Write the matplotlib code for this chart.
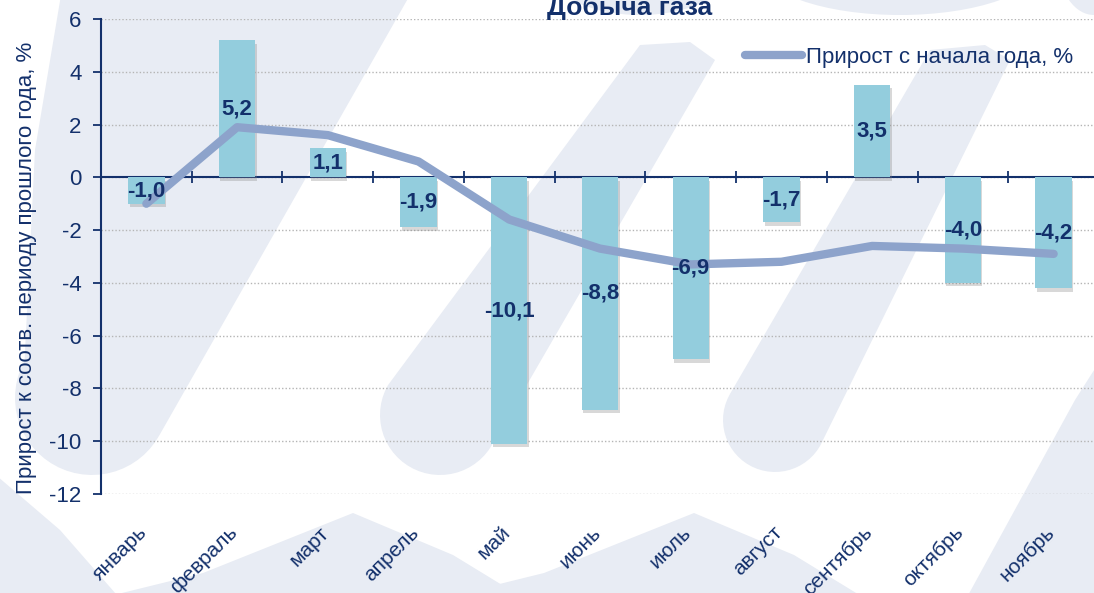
import matplotlib
matplotlib.use('Agg')
import numpy as np
import matplotlib.pyplot as plt
import matplotlib.patheffects as pe
from matplotlib.patches import Polygon, Ellipse

# данные
months = ['январь', 'февраль', 'март', 'апрель', 'май', 'июнь',
          'июль', 'август', 'сентябрь', 'октябрь', 'ноябрь']
yoy = [-1.0, 5.2, 1.1, -1.9, -10.1, -8.8, -6.9, -1.7, 3.5, -4.0, -4.2]
ytd = [-1.0, 1.9, 1.6, 0.6, -1.6, -2.7, -3.3, -3.2, -2.6, -2.7, -2.9]
yticks = [6, 4, 2, 0, -2, -4, -6, -8, -10, -12]

plt.rcParams['font.family'] = ['Liberation Sans', 'DejaVu Sans']
plt.rcParams['axes.unicode_minus'] = False

NAVY = '#13306b'
BAR = '#93cddd'
LINE = '#8da3cb'
WM = '#e8ecf4'

W, H = 1094, 593
fig = plt.figure(figsize=(W / 100, H / 100), dpi=100)


def px(x, y):
    return x / W, 1 - y / H


def shape(pts):
    fig.add_artist(Polygon([px(*p) for p in pts], closed=True, transform=fig.transFigure,
                           facecolor=WM, edgecolor='none', zorder=-10))


def stroke(c, r, d, top_pts):
    """наклонный мазок логотипа с круглым низом (координаты в пикселях)"""
    d = np.array(d, float)
    d /= np.hypot(*d)
    ang0 = np.arctan2(d[1], d[0])
    t = np.linspace(ang0 + np.pi / 2, ang0 + 3 * np.pi / 2, 30)
    arc = [(c[0] + r * np.cos(a), c[1] + r * np.sin(a)) for a in t]
    shape(arc + list(top_pts))


def mound(p, top=513):
    """нижний ряд логотипа: острые верхушки"""
    shape([(p, top), (p - 150, top + 60), (p - 300, 610), (p + 190, 610), (p + 100, top + 42)])


# водяной знак
stroke((92, 398), 77, (0.55, -1), [(35, 150), (61, -5), (410, -5)])
stroke((440, 415), 60, (0.57, -1), [(640, 45), (690, 42), (715, 60)])
stroke((775, 420), 52, (0.57, -1), [(930, 50), (985, 45), (1010, 60)])
shape([(960, 610), (1075, 400), (1110, 345), (1150, 345), (1150, 610)])
mound(353)
mound(694)
shape([(-10, 470), (60, 530), (130, 610), (-10, 610)])
for cx, w in [(640, 190), (900, 280), (1094, 70)]:
    fig.add_artist(Ellipse(px(cx, -35), w / W, 100 / H, transform=fig.transFigure,
                           facecolor=WM, edgecolor='none', zorder=-10))

ax = fig.add_axes([101 / W, 1 - 494 / H, 998 / W, 475 / H])
ax.patch.set_alpha(0)

x = list(range(len(months)))
bars = ax.bar(x, yoy, width=0.4, color=BAR, zorder=3)
for b in bars:
    b.set_path_effects([pe.SimplePatchShadow(offset=(1, -2.5), shadow_rgbFace='#7f7f7f', alpha=0.3),
                        pe.Normal()])

ax.plot(x, ytd, color=LINE, lw=6, solid_capstyle='round', solid_joinstyle='round',
        zorder=4, label='Прирост с начала года, %')

for i, v in enumerate(yoy):
    ax.text(i, v / 2, f'{v:.1f}'.replace('.', ','), ha='center', va='center',
            fontsize=16, fontweight='bold', color=NAVY, zorder=5)

ax.set_xlim(-0.5, len(months) - 0.5)
ax.set_ylim(-12, 6)
ax.set_yticks(yticks)
ax.set_yticklabels([str(t) for t in yticks])
ax.tick_params(axis='y', labelsize=16, labelcolor=NAVY, color=NAVY, length=6, width=1.3, pad=8)
ax.yaxis.grid(True, linestyle=(0, (1, 1.5)), color='#b5b5b5', lw=1, zorder=0)

ax.set_xticks([i + 0.5 for i in range(len(months) - 1)])
ax.set_xticklabels([])
ax.tick_params(axis='x', direction='inout', length=9, width=1.3, color=NAVY)
ax.spines['bottom'].set_position(('data', 0))
for s in ['bottom', 'left']:
    ax.spines[s].set_color(NAVY)
    ax.spines[s].set_linewidth(1.5)
ax.spines['top'].set_visible(False)
ax.spines['right'].set_visible(False)

for i, m in enumerate(months):
    ax.text(i - 0.1, -13.1, m, rotation=45, ha='right', va='top', rotation_mode='anchor',
            fontsize=15, color=NAVY, clip_on=False)

fig.text(*px(27, 268), 'Прирост к соотв. периоду прошлого года, %', rotation=90,
         ha='center', va='center', fontsize=16, color=NAVY)
fig.text(*px(630, 15), 'Добыча газа', ha='center', va='baseline',
         fontsize=19, fontweight='bold', color=NAVY)

ax.legend(loc='center left', bbox_to_anchor=px(745, 57), bbox_transform=fig.transFigure,
          frameon=False, fontsize=16, handlelength=2.57, handletextpad=0.18,
          borderpad=0, borderaxespad=0, labelcolor=NAVY)

fig.savefig('out.png', dpi=100)
